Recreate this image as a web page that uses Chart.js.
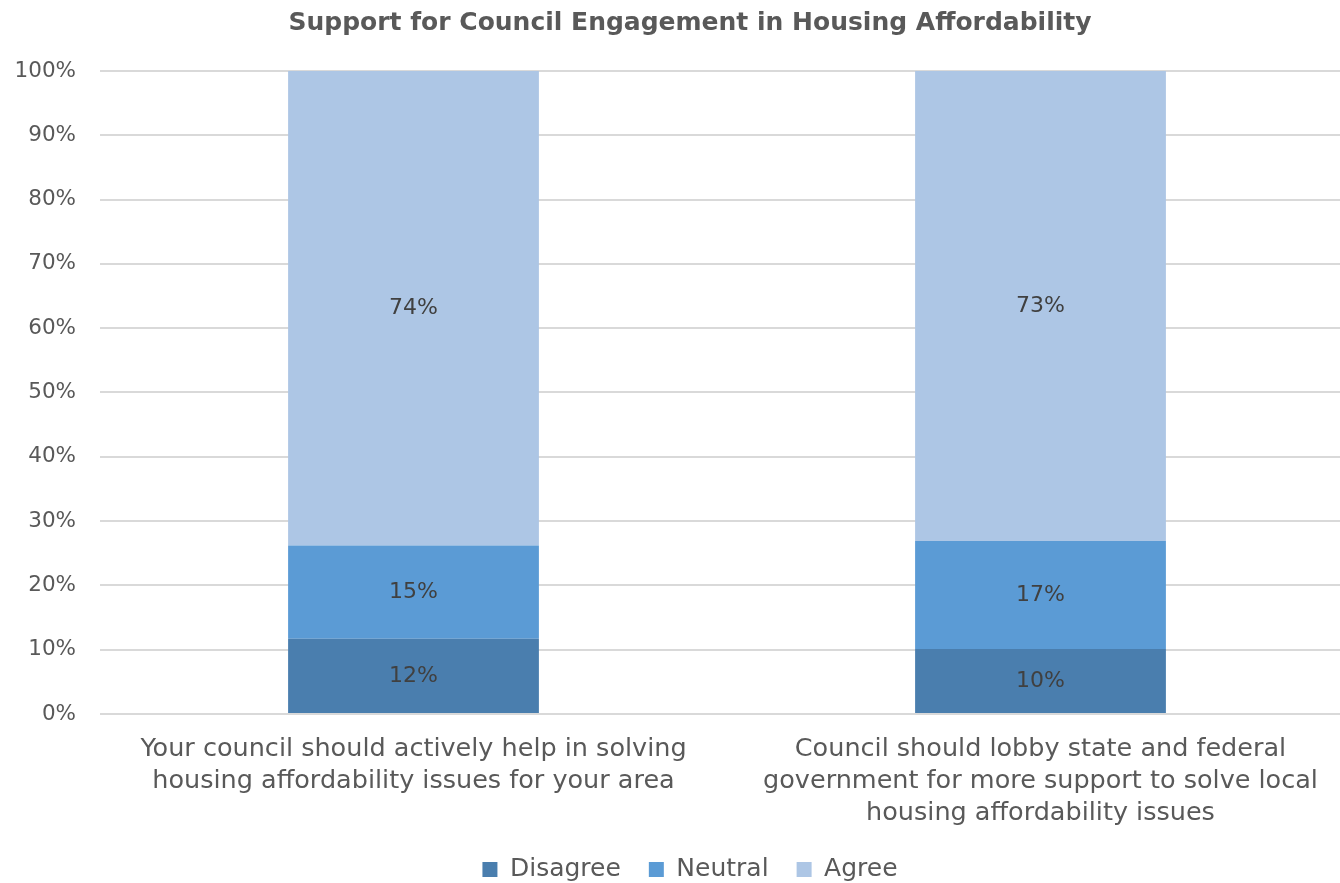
<!DOCTYPE html>
<html>
<head>
<meta charset="utf-8">
<script src="https://cdn.jsdelivr.net/npm/chart.js@4"></script>
<style>
    html, body { margin: 0; padding: 0; background: #fff; overflow: hidden; }
    #wrap { width: 1340px; height: 883px; overflow: hidden; }
</style>
</head>
<body>
<div id="wrap"><canvas id="chart" width="1380" height="893"></canvas></div>
<script>
const categories = [
    ['Your council should actively help in solving', 'housing affordability issues for your area'],
    ['Council should lobby state and federal', 'government for more support to solve local', 'housing affordability issues']
];
const disagree = [11.7, 10.1];
const neutral = [14.5, 16.8];
const agree = [73.8, 73.1];
const yTicks = [0, 10, 20, 30, 40, 50, 60, 70, 80, 90, 100];

const FONT = "'DejaVu Sans', sans-serif";
const TEXT = '#595959';

// draw rounded percentage in the middle of each segment
const segmentLabels = {
    id: 'segmentLabels',
    afterDatasetsDraw(chart) {
        const ctx = chart.ctx;
        ctx.save();
        ctx.font = '22px ' + FONT;
        ctx.fillStyle = '#404040';
        ctx.textAlign = 'center';
        ctx.textBaseline = 'middle';
        chart.data.datasets.forEach((ds, i) => {
            chart.getDatasetMeta(i).data.forEach((bar, j) => {
                const mid = (bar.y + bar.base) / 2;
                ctx.fillText(Math.round(ds.data[j]) + '%', bar.x, mid);
            });
        });
        ctx.restore();
    }
};

new Chart(document.getElementById('chart').getContext('2d'), {
    type: 'bar',
    data: {
        labels: categories,
        datasets: [
            { label: 'Disagree', data: disagree, backgroundColor: '#4A7EAE' },
            { label: 'Neutral', data: neutral, backgroundColor: '#5B9BD5' },
            { label: 'Agree', data: agree, backgroundColor: '#ADC6E5' }
        ]
    },
    options: {
        responsive: false,
        animation: false,
        categoryPercentage: 1,
        barPercentage: 0.4,
        layout: { padding: { left: 0, right: 0, top: 0, bottom: 1 } },
        plugins: {
            title: {
                display: true,
                text: 'Support for Council Engagement in Housing Affordability',
                color: TEXT,
                font: { family: FONT, size: 25, weight: 'bold' },
                padding: { top: 8, bottom: 33 }
            },
            legend: {
                position: 'bottom',
                labels: {
                    color: TEXT,
                    font: { family: FONT, size: 25 },
                    boxWidth: 15,
                    boxHeight: 15,
                    padding: 28
                }
            },
            tooltip: { enabled: false }
        },
        scales: {
            x: {
                stacked: true,
                grid: { display: false },
                border: { display: false },
                afterFit: s => { s.height -= 11; },
                ticks: {
                    color: TEXT,
                    font: { family: FONT, size: 25.5, lineHeight: 1.255 },
                    maxRotation: 0,
                    autoSkip: false,
                    padding: 11
                }
            },
            y: {
                stacked: true,
                min: 0,
                max: 100,
                afterBuildTicks: s => { s.ticks = yTicks.map(v => ({ value: v })); },
                afterFit: s => { s.width = 100; },
                grid: { color: '#D9D9D9', lineWidth: 2, drawTicks: false },
                border: { display: false },
                ticks: {
                    color: TEXT,
                    font: { family: FONT, size: 21.5 },
                    padding: 24,
                    callback: v => v + '%'
                }
            },
            // empty right-hand axis that only reserves space
            spacer: {
                position: 'right',
                min: 0,
                max: 100,
                afterFit: s => { s.width = 26; },
                grid: { display: false },
                border: { display: false },
                ticks: { display: false }
            }
        }
    },
    plugins: [segmentLabels]
});
</script>
</body>
</html>
